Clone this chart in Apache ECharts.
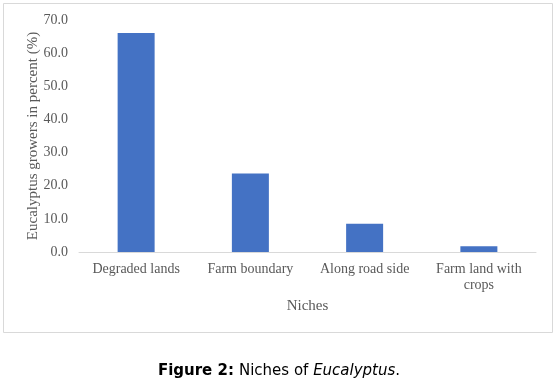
<!DOCTYPE html>
<html>
<head>
<meta charset="utf-8">
<script src="https://cdn.jsdelivr.net/npm/echarts@6/dist/echarts.min.js"></script>
<style>
html,body{margin:0;padding:0;background:#fff;}
#chart{width:558px;height:386px;}
</style>
</head>
<body>
<div id="chart"></div>
<script>
const categories = ["Degraded lands", "Farm boundary", "Along road side", "Farm land with\ncrops"];
const values = [66.1, 23.7, 8.5, 1.7];
const yTicks = [0, 10, 20, 30, 40, 50, 60, 70];

const chart = echarts.init(document.getElementById('chart'), null, {renderer: 'canvas'});
const serif = '"Liberation Serif", "Times New Roman", serif';
const sans = '"DejaVu Sans", Verdana, sans-serif';
const gray = '#595959';
chart.setOption({
  animation: false,
  backgroundColor: '#ffffff',
  graphic: [{
    type: 'rect',
    shape: {x: 3.5, y: 3.5, width: 549, height: 329},
    style: {fill: 'none', stroke: '#d9d9d9', lineWidth: 1},
    silent: true
  }],
  title: {
    text: '{b|Figure 2:} {n|Niches of }{i|Eucalyptus}{n|.}',
    left: 'center',
    top: 357,
    textStyle: {
      fontWeight: 'normal',
      rich: {
        b: {fontFamily: sans, fontWeight: 'bold', fontSize: 15, color: '#000'},
        n: {fontFamily: sans, fontWeight: 'normal', fontSize: 15, color: '#000'},
        i: {fontFamily: sans, fontWeight: 'normal', fontStyle: 'italic', fontSize: 15, color: '#000'}
      }
    }
  },
  grid: {left: 79, right: 22, top: 20, bottom: 134, containLabel: false},
  xAxis: {
    type: 'category',
    data: categories,
    name: 'Niches',
    nameLocation: 'middle',
    nameGap: 47,
    nameMoveOverlap: false,
    nameTextStyle: {fontFamily: serif, fontSize: 15, color: gray},
    axisLine: {lineStyle: {color: '#d9d9d9'}},
    axisTick: {show: false},
    axisLabel: {fontFamily: serif, fontSize: 14, color: gray, margin: 9, lineHeight: 16, interval: 0}
  },
  yAxis: {
    type: 'value',
    min: yTicks[0],
    max: yTicks[yTicks.length - 1],
    interval: 10,
    name: 'Eucalyptus growers in percent (%)',
    nameLocation: 'middle',
    nameGap: 38,
    nameMoveOverlap: false,
    nameTextStyle: {fontFamily: serif, fontSize: 15, color: gray},
    axisLine: {show: false},
    axisTick: {show: false},
    splitLine: {show: false},
    axisLabel: {fontFamily: serif, fontSize: 14, color: gray, margin: 11, formatter: v => v.toFixed(1)}
  },
  series: [{
    type: 'bar',
    data: values,
    barWidth: 37,
    itemStyle: {color: '#4472c4'}
  }]
});
</script>
</body>
</html>
